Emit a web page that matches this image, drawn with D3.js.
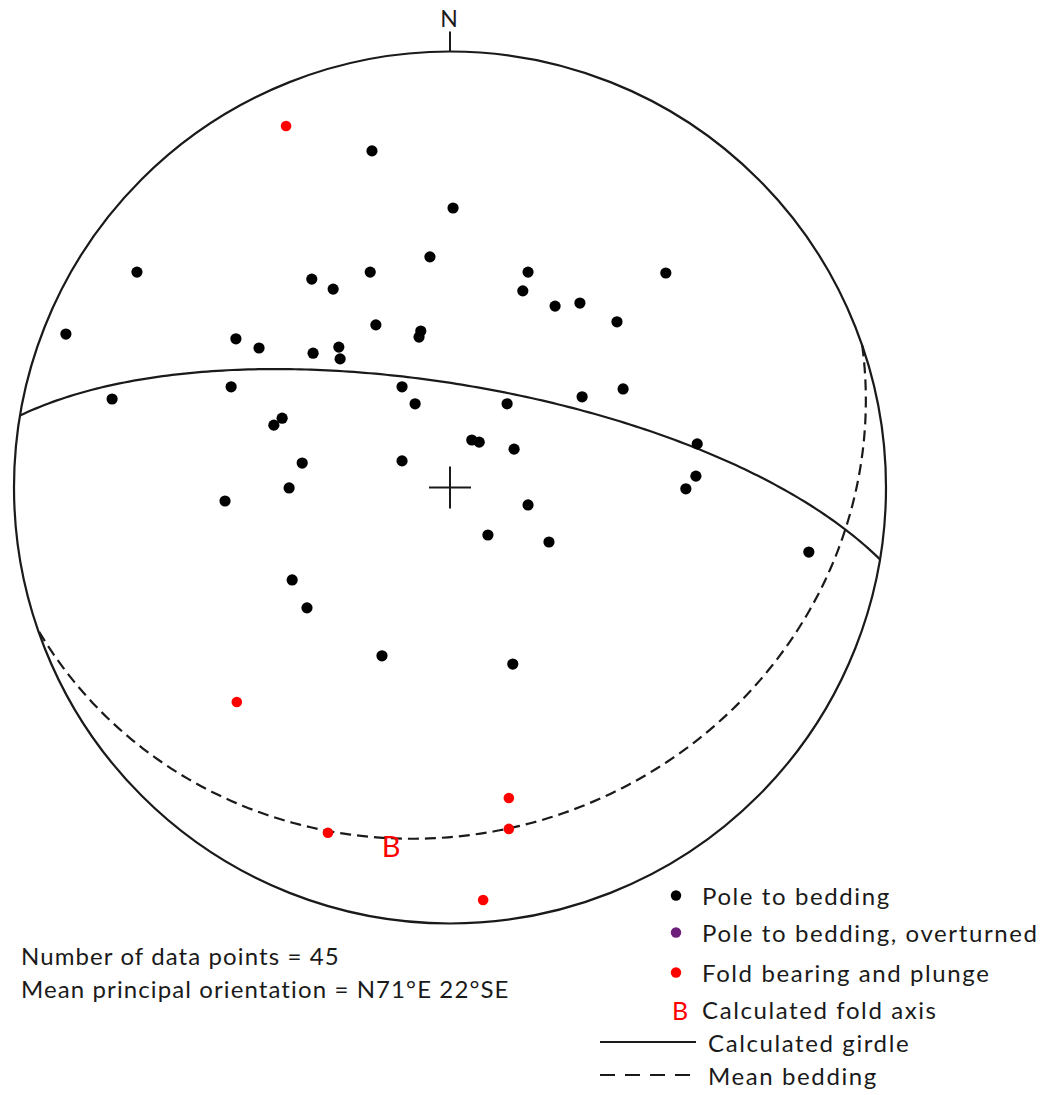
<!DOCTYPE html>
<html>
<head>
<meta charset="utf-8">
<script src="https://cdn.jsdelivr.net/npm/d3@7"></script>
<style>
  html, body { margin: 0; padding: 0; background: #fff; }
  svg text { font-family: Lato, "Open Sans", sans-serif; fill: #1a1a1a; }
</style>
</head>
<body>
<svg id="net" width="1044" height="1095"></svg>
<script>
// Poles to bedding, lower-hemisphere equal-area net coordinates [east, north],
// expressed in units of the primitive circle radius.
const poles = [
  [-0.179, 0.772], [0.007, 0.641], [-0.046, 0.529], [-0.718, 0.494], [-0.317, 0.478],
  [-0.183, 0.494], [-0.268, 0.455], [-0.881, 0.352], [-0.491, 0.341], [-0.438, 0.320],
  [-0.170, 0.373], [-0.067, 0.359], [-0.071, 0.345], [-0.314, 0.308], [-0.255, 0.322],
  [-0.252, 0.295], [-0.502, 0.231], [-0.775, 0.203], [-0.110, 0.231], [-0.080, 0.192],
  [-0.385, 0.159], [-0.404, 0.143], [-0.339, 0.056], [-0.110, 0.061], [-0.369, -0.001],
  [-0.516, -0.031], [0.179, 0.494], [0.167, 0.451], [0.241, 0.416], [0.298, 0.423],
  [0.383, 0.380], [0.495, 0.492], [0.131, 0.192], [0.303, 0.208], [0.397, 0.226],
  [0.050, 0.109], [0.067, 0.104], [0.147, 0.088], [0.567, 0.100], [0.564, 0.026],
  [0.541, -0.003], [-0.362, -0.212], [-0.328, -0.276], [-0.156, -0.386], [0.179, -0.040],
  [0.087, -0.109], [0.227, -0.125], [0.823, -0.148], [0.144, -0.405]
];

// Measured fold bearings and plunges, same net coordinates
const foldLineations = [
  [-0.376, 0.829], [-0.489, -0.492], [-0.280, -0.792],
  [0.135, -0.712], [0.135, -0.783], [0.076, -0.946]
];

// Calculated fold axis (trend / plunge, degrees); the girdle is the plane normal to it
const foldAxis = { trend: 189.5, plunge: 19.3 };

// Mean bedding plane (strike / dip, right-hand rule, degrees)
const meanBedding = { strike: 71, dip: 22 };

const summaryLines = [
  "Number of data points = 45",
  "Mean principal orientation = N71°E 22°SE"
];

const legendLabels = [
  "Pole to bedding",
  "Pole to bedding, overturned",
  "Fold bearing and plunge",
  "Calculated fold axis",
  "Calculated girdle",
  "Mean bedding"
];
const legendKinds = ["dot", "dot", "dot", "letter", "solid", "dashed"];
const legendColors = ["#000000", "#6e1f7c", "#ff0000", "#ff0000", "#1a1a1a", "#1a1a1a"];

// ---------- layout ----------
const svg = d3.select("#net");
const x = d3.scaleLinear().domain([-1, 1]).range([14, 886]);
const y = d3.scaleLinear().domain([-1, 1]).range([923.5, 51.5]);
const R = x(1) - x(0);
const rad = Math.PI / 180;

// Schmidt (equal-area) projection of a line given by trend/plunge
function projectLine(trend, plunge) {
  const r = Math.SQRT2 * Math.sin((90 - plunge) / 2 * rad);
  return [x(r * Math.sin(trend * rad)), y(r * Math.cos(trend * rad))];
}

// Great circle of a plane given by dip direction and dip
function greatCircle(dipDir, dip) {
  const s = (dipDir - 90) * rad, dd = dipDir * rad, d = dip * rad;
  const sv = [Math.sin(s), Math.cos(s), 0];
  const dv = [Math.sin(dd) * Math.cos(d), Math.cos(dd) * Math.cos(d), Math.sin(d)];
  return d3.range(0, 180.5, 1).map(a => {
    const c = Math.cos(a * rad), sn = Math.sin(a * rad);
    const e = c * sv[0] + sn * dv[0], n = c * sv[1] + sn * dv[1], dn = c * sv[2] + sn * dv[2];
    const plunge = Math.asin(Math.min(1, Math.max(-1, dn))) / rad;
    const trend = Math.atan2(e, n) / rad;
    return projectLine(trend, plunge);
  });
}

const line = d3.line().curve(d3.curveLinear);

// primitive circle
svg.append("circle")
  .attr("cx", x(0)).attr("cy", y(0)).attr("r", R)
  .attr("fill", "none").attr("stroke", "#1a1a1a").attr("stroke-width", 2.2);

// north tick and label
svg.append("line")
  .attr("x1", x(0)).attr("x2", x(0))
  .attr("y1", y(1)).attr("y2", y(1) - 20)
  .attr("stroke", "#1a1a1a").attr("stroke-width", 2);
svg.append("text")
  .attr("x", x(0) - 1).attr("y", y(1) - 25)
  .attr("text-anchor", "middle").attr("font-size", 23)
  .text("N");

// centre cross
const cross = 21;
svg.append("path")
  .attr("d", `M${x(0) - cross},${y(0)}H${x(0) + cross}M${x(0)},${y(0) - cross}V${y(0) + cross}`)
  .attr("stroke", "#1a1a1a").attr("stroke-width", 2);

// calculated girdle: plane normal to the fold axis
svg.append("path")
  .attr("d", line(greatCircle((foldAxis.trend + 180) % 360, 90 - foldAxis.plunge)))
  .attr("fill", "none").attr("stroke", "#1a1a1a").attr("stroke-width", 2.2);

// mean bedding
svg.append("path")
  .attr("d", line(greatCircle(meanBedding.strike + 90, meanBedding.dip)))
  .attr("fill", "none").attr("stroke", "#1a1a1a").attr("stroke-width", 2.2)
  .attr("stroke-dasharray", "11,6");

// poles to bedding
svg.append("g").selectAll("circle").data(poles).join("circle")
  .attr("cx", d => x(d[0])).attr("cy", d => y(d[1])).attr("r", 5.6)
  .attr("fill", "#000");

// fold bearing and plunge
svg.append("g").selectAll("circle").data(foldLineations).join("circle")
  .attr("cx", d => x(d[0])).attr("cy", d => y(d[1])).attr("r", 5.3)
  .attr("fill", "#ff0000");

// calculated fold axis, marked with a letter B
const axisPt = projectLine(foldAxis.trend, foldAxis.plunge);
svg.append("text")
  .attr("x", axisPt[0]).attr("y", axisPt[1] + 18)
  .attr("text-anchor", "middle").attr("font-size", 29)
  .style("fill", "#ff0000")
  .text("B");

// summary text
svg.append("g").selectAll("text").data(summaryLines).join("text")
  .attr("x", 21).attr("y", (d, i) => 965 + i * 33)
  .attr("font-size", 24).attr("letter-spacing", 1.1)
  .text(d => d);

// legend
const rowY = [905, 942, 982, 1019, 1052, 1085];
const legend = svg.append("g");
legendLabels.forEach((label, i) => {
  const kind = legendKinds[i], col = legendColors[i], yy = rowY[i];
  if (kind === "dot") {
    legend.append("circle").attr("cx", 676).attr("cy", yy - 9.5).attr("r", 5.2).attr("fill", col);
  } else if (kind === "letter") {
    legend.append("text").attr("x", 680).attr("y", yy + 1).attr("text-anchor", "middle")
      .attr("font-size", 25).style("fill", col).text("B");
  } else {
    legend.append("line").attr("x1", 600).attr("x2", 696).attr("y1", yy - 10).attr("y2", yy - 10)
      .attr("stroke", col).attr("stroke-width", 2)
      .attr("stroke-dasharray", kind === "dashed" ? "15,10" : null);
  }
  legend.append("text")
    .attr("x", kind === "solid" || kind === "dashed" ? 708 : 702)
    .attr("y", yy).attr("font-size", 24).attr("letter-spacing", 1.6)
    .text(label);
});
</script>
</body>
</html>
